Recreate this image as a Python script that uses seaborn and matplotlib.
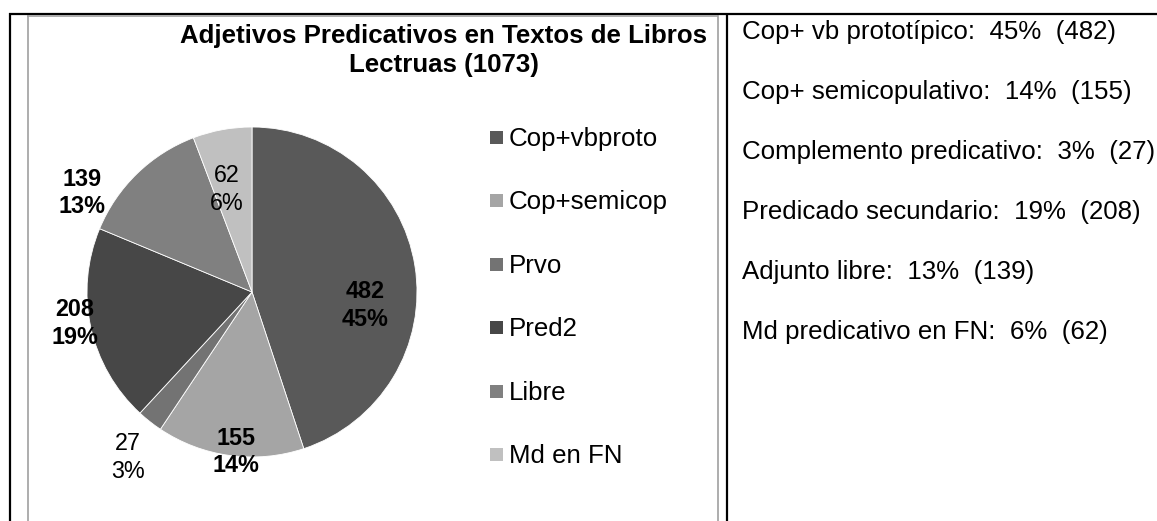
import matplotlib
matplotlib.use("Agg")
import matplotlib.pyplot as plt
from matplotlib.lines import Line2D
from matplotlib.patches import Rectangle
import seaborn as sns

# ---------------- data ----------------
categories = ["Cop+vbproto", "Cop+semicop", "Prvo", "Pred2", "Libre", "Md en FN"]
counts = [482, 155, 27, 208, 139, 62]
bold_label = [True, True, False, True, True, False]
descriptions = ["Cop+ vb prototípico", "Cop+ semicopulativo", "Complemento predicativo",
                "Predicado secundario", "Adjunto libre", "Md predicativo en FN"]
title_lines = ["Adjetivos Predicativos en Textos de Libros", "Lectruas (1073)"]
colors = ["#595959", "#a5a5a5", "#737373", "#474747", "#808080", "#c0c0c0"]

total = sum(counts)
pcts = [round(c / total * 100) for c in counts]

# ---------------- style ----------------
sns.set_theme(style="white")
plt.rcParams["font.family"] = ["Liberation Sans", "DejaVu Sans"]
palette = sns.color_palette(colors)

W, H = 1157, 521
fig = plt.figure(figsize=(W / 100, H / 100), dpi=100)
fig.patch.set_facecolor("white")

def fx(px):
    return px / W

def fy(py):
    return 1 - py / H

# ---------------- table borders ----------------
def hline(x0, x1, y, color, lw):
    fig.add_artist(Line2D([fx(x0), fx(x1)], [fy(y), fy(y)], color=color, lw=lw,
                          transform=fig.transFigure, solid_capstyle="butt"))

def vline(x, y0, y1, color, lw):
    fig.add_artist(Line2D([fx(x), fx(x)], [fy(y0), fy(y1)], color=color, lw=lw,
                          transform=fig.transFigure, solid_capstyle="butt"))

hline(9, W, 13.5, "black", 1.6)
vline(10, 13, H, "black", 1.6)
vline(727, 13, H, "black", 1.6)
# chart frame (gray)
hline(27, 718, 15.5, "#a0a0a0", 1.2)
vline(27.5, 15, H, "#a0a0a0", 1.2)
vline(718, 15, H, "#a0a0a0", 1.2)

# ---------------- pie ----------------
cx, cy, r = 252, 292, 165
ax = fig.add_axes([fx(cx - r), fy(cy + r), 2 * r / W, 2 * r / H])
ax.pie(counts, colors=palette, startangle=90, counterclock=False, radius=1,
       wedgeprops=dict(edgecolor="white", linewidth=0.6))
ax.set_xlim(-1, 1)
ax.set_ylim(-1, 1)
ax.set_aspect("equal")
ax.axis("off")

# data labels (pixel positions: centre x, baseline of first line)
label_pos = [(365, 298), (236, 445), (128, 450), (75, 316), (82, 186), (227, 182)]
for (px, py), c, p, b in zip(label_pos, counts, pcts, bold_label):
    w = "bold" if b else "normal"
    fig.text(fx(px), fy(py), f"{c}", ha="center", va="baseline", fontsize=16.8,
             fontweight=w, color="black")
    fig.text(fx(px), fy(py + 27.5), f"{p}%", ha="center", va="baseline", fontsize=16.8,
             fontweight=w, color="black")

# title
fig.text(fx(444), fy(43), title_lines[0], ha="center", va="baseline", fontsize=18.6,
         fontweight="bold", color="black")
fig.text(fx(444), fy(72), title_lines[1], ha="center", va="baseline", fontsize=18.6,
         fontweight="bold", color="black")

# legend
for i, (cat, col) in enumerate(zip(categories, palette)):
    base = 146 + 63.4 * i
    fig.add_artist(Rectangle((fx(490), fy(base - 2)), 13 / W, 13 / H, facecolor=col,
                             edgecolor="none", transform=fig.transFigure))
    fig.text(fx(509), fy(base), cat, ha="left", va="baseline", fontsize=18.6, color="black")

# right-hand text column
for i, (d, c, p) in enumerate(zip(descriptions, counts, pcts)):
    base = 39 + 60 * i
    fig.text(fx(742), fy(base), f"{d}:  {p}%  ({c})", ha="left", va="baseline",
             fontsize=18.6, color="black")

fig.savefig("out.png", dpi=100, facecolor="white")
